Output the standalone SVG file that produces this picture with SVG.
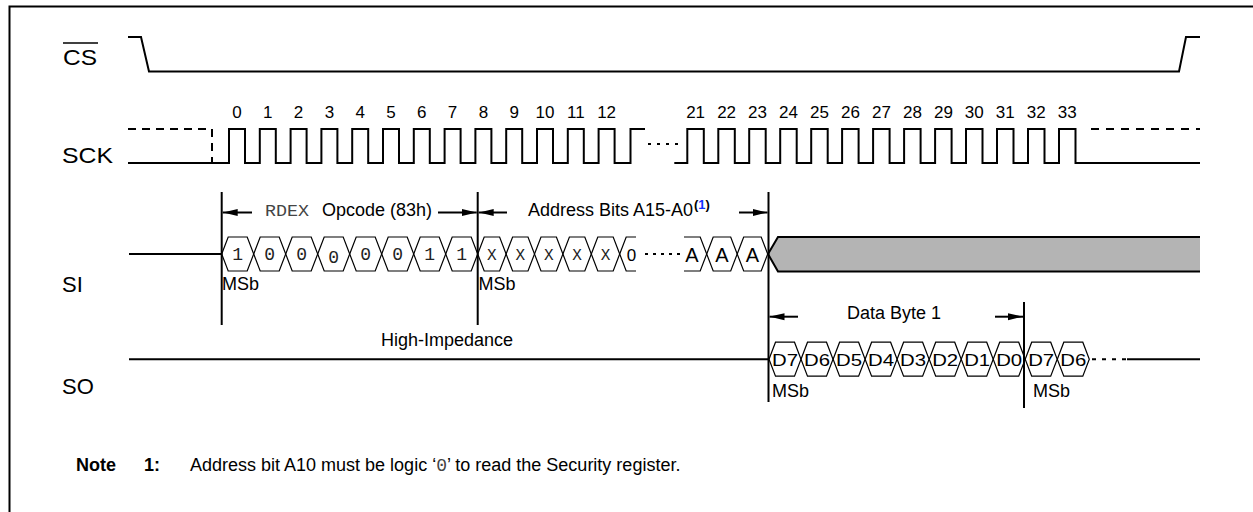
<svg xmlns="http://www.w3.org/2000/svg" xmlns:xlink="http://www.w3.org/1999/xlink" width="1253" height="512" viewBox="0 0 1253 512">
<style>
.w{fill:none;stroke:#000;stroke-width:2}
.h{fill:none;stroke:#000;stroke-width:1.2}
.v{stroke:#000;stroke-width:2}
.lbl{font-family:"Liberation Sans",Arial,sans-serif;font-size:22px;fill:#000}
.num{font-family:"Liberation Sans",Arial,sans-serif;font-size:17px;fill:#000;text-anchor:middle}
.t{font-family:"Liberation Sans",Arial,sans-serif;font-size:18px;fill:#000}
.bit{font-family:"Liberation Mono","Courier New",monospace;font-size:18px;fill:#222;text-anchor:middle}
.xb{font-family:"Liberation Mono","Courier New",monospace;font-size:16px;fill:#222;text-anchor:middle}
.d{font-family:"Liberation Sans",Arial,sans-serif;font-size:17px;fill:#000;text-anchor:middle}
.a{font-family:"Liberation Sans",Arial,sans-serif;font-size:20px;fill:#000;text-anchor:middle}
.arr{stroke:#000;stroke-width:2;marker-end:url(#ah)}
</style>
<defs>
<marker id="ah" markerUnits="userSpaceOnUse" markerWidth="15" markerHeight="8" refX="15" refY="4" orient="auto"><path d="M0,0.5 L15,4 L0,7.5 Z" fill="#000"/></marker>
<path id="hex32" class="h" d="M0,0 L6.5,-17 L25.5,-17 L32,0 L25.5,17 L6.5,17 Z"/>
<path id="hex28" class="h" d="M0,0 L6.5,-17 L21.9,-17 L28.4,0 L21.9,17 L6.5,17 Z"/>
<path id="hex30" class="h" d="M0,0 L6.5,-17 L24,-17 L30.5,0 L24,17 L6.5,17 Z"/>
</defs>
<rect width="1253" height="512" fill="#fff"/>
<g id="frame"><path d="M9.5,512 V6.5 H1253" class="w" stroke-width="2.2"/></g>

<g id="cs">
<text class="lbl" x="63" y="65" textLength="34" lengthAdjust="spacingAndGlyphs">CS</text>
<line x1="63" y1="43" x2="98" y2="43" stroke="#000" stroke-width="1.5"/>
<polyline class="w" points="128,37 141,37 149,71.5 1179,71.5 1186,37 1200,37"/>
</g>

<g id="sck">
<text class="lbl" x="62" y="163" textLength="51" lengthAdjust="spacingAndGlyphs">SCK</text>
<path class="w" d="M128,163 H212"/>
<path class="w" d="M128,129 H212 V163" stroke-dasharray="8,6"/>
<path class="w" d="M212,163 H229 V129 H245 V163 H259.8 V129 H275.8 V163 H290.6 V129 H306.6 V163 H321.4 V129 H337.4 V163 H352.2 V129 H368.2 V163 H383 V129 H399 V163 H413.8 V129 H429.8 V163 H444.6 V129 H460.6 V163 H475.4 V129 H491.4 V163 H506.2 V129 H522.2 V163 H537 V129 H553 V163 H567.8 V129 H583.8 V163 H598.6 V129 H614.6 V163 H630.5 V129 H645"/>
<path class="w" d="M648,144 H681" stroke-dasharray="3,6"/>
<path class="w" d="M674.3,163 H687.3 V129 H703.8 V163 H718.3 V129 H734.8 V163 H749.2 V129 H765.7 V163 H780.2 V129 H796.7 V163 H811.2 V129 H827.7 V163 H842.1 V129 H858.6 V163 H873.1 V129 H889.6 V163 H904.1 V129 H920.6 V163 H935.1 V129 H951.6 V163 H966 V129 H982.5 V163 H997 V129 H1013.5 V163 H1028 V129 H1044.5 V163 H1059 V129 H1075.5 V163 H1200"/>
<path class="w" d="M1091,129 H1200" stroke-dasharray="8,7"/>
<g class="num">
<text x="237" y="118">0</text><text x="267.8" y="118">1</text><text x="298.6" y="118">2</text><text x="329.4" y="118">3</text><text x="360.2" y="118">4</text><text x="391" y="118">5</text><text x="421.8" y="118">6</text><text x="452.6" y="118">7</text><text x="483.4" y="118">8</text><text x="514.2" y="118">9</text><text x="545" y="118">10</text><text x="575.8" y="118">11</text><text x="606.6" y="118">12</text>
<text x="695.6" y="118">21</text><text x="726.6" y="118">22</text><text x="757.5" y="118">23</text><text x="788.5" y="118">24</text><text x="819.5" y="118">25</text><text x="850.4" y="118">26</text><text x="881.4" y="118">27</text><text x="912.4" y="118">28</text><text x="943.4" y="118">29</text><text x="974.3" y="118">30</text><text x="1005.3" y="118">31</text><text x="1036.3" y="118">32</text><text x="1067.3" y="118">33</text>
</g>
</g>

<g id="si">
<text class="lbl" x="62" y="292">SI</text>
<path class="w" d="M129,254 H221.7"/>
<use xlink:href="#hex32" x="221.7" y="254"/><use xlink:href="#hex32" x="253.7" y="254"/><use xlink:href="#hex32" x="285.7" y="254"/><use xlink:href="#hex32" x="317.7" y="254"/><use xlink:href="#hex32" x="349.7" y="254"/><use xlink:href="#hex32" x="381.7" y="254"/><use xlink:href="#hex32" x="413.7" y="254"/><use xlink:href="#hex32" x="445.7" y="254"/>
<g class="bit">
<text x="237.7" y="260">1</text><text x="269.7" y="260">0</text><text x="301.7" y="260">0</text><text x="333.7" y="263">0</text><text x="365.7" y="260">0</text><text x="397.7" y="260">0</text><text x="429.7" y="260">1</text><text x="461.7" y="260">1</text>
</g>
<use xlink:href="#hex28" x="477.7" y="254"/><use xlink:href="#hex28" x="506.1" y="254"/><use xlink:href="#hex28" x="534.5" y="254"/><use xlink:href="#hex28" x="562.9" y="254"/><use xlink:href="#hex28" x="591.3" y="254"/>
<g class="xb">
<text x="491.9" y="259.5">X</text><text x="520.3" y="259.5">X</text><text x="548.7" y="259.5">X</text><text x="577.1" y="259.5">X</text><text x="605.5" y="259.5">X</text>
</g>
<path class="h" d="M636,237 H626.2 L619.7,254 L626.2,271 H636"/>
<text class="d" x="631.5" y="260.5">0</text>
<path class="w" d="M645,254 H681" stroke-dasharray="3,5"/>
<path class="h" d="M684,237 H700.2 L706.7,254 L700.2,271 H684"/>
<use xlink:href="#hex30" x="706.7" y="254"/><use xlink:href="#hex30" x="737.2" y="254"/>
<g class="a">
<text x="692" y="261.5">A</text><text x="722" y="261.5">A</text><text x="752.5" y="261.5">A</text>
</g>
<path d="M768,254 L778,237 H1200 V271.5 H778 Z" fill="#b4b4b4"/>
<path class="w" d="M1200,237 H778 L768,254 L778,271.5 H1200"/>
<text class="t" x="222" y="290">MSb</text>
<text class="t" x="478.5" y="290">MSb</text>
</g>

<g id="so">
<text class="lbl" x="62" y="394">SO</text>
<path class="w" d="M129,359.2 H769"/>
<use xlink:href="#hex32" x="769" y="359.2"/><use xlink:href="#hex32" x="801" y="359.2"/><use xlink:href="#hex32" x="833.1" y="359.2"/><use xlink:href="#hex32" x="865.1" y="359.2"/><use xlink:href="#hex32" x="897.1" y="359.2"/><use xlink:href="#hex32" x="929.2" y="359.2"/><use xlink:href="#hex32" x="961.2" y="359.2"/><use xlink:href="#hex32" x="993.2" y="359.2"/><use xlink:href="#hex32" x="1025.2" y="359.2"/><use xlink:href="#hex32" x="1057.3" y="359.2"/>
<g class="d">
<text x="785" y="365.5" textLength="26" lengthAdjust="spacingAndGlyphs">D7</text><text x="817" y="365.5" textLength="26" lengthAdjust="spacingAndGlyphs">D6</text><text x="849.1" y="365.5" textLength="26" lengthAdjust="spacingAndGlyphs">D5</text><text x="881.1" y="365.5" textLength="26" lengthAdjust="spacingAndGlyphs">D4</text><text x="913.1" y="365.5" textLength="26" lengthAdjust="spacingAndGlyphs">D3</text><text x="945.2" y="365.5" textLength="26" lengthAdjust="spacingAndGlyphs">D2</text><text x="977.2" y="365.5" textLength="26" lengthAdjust="spacingAndGlyphs">D1</text><text x="1009.2" y="365.5" textLength="26" lengthAdjust="spacingAndGlyphs">D0</text><text x="1041.2" y="365.5" textLength="26" lengthAdjust="spacingAndGlyphs">D7</text><text x="1073.3" y="365.5" textLength="26" lengthAdjust="spacingAndGlyphs">D6</text>
</g>
<path class="w" d="M1092,359.2 H1127" stroke-dasharray="4,6"/>
<path class="w" d="M1127,359.2 H1200"/>
<text class="t" x="381" y="346">High-Impedance</text>
<text class="t" x="772" y="397">MSb</text>
<text class="t" x="1033" y="397">MSb</text>
</g>

<g id="connectors">
<line class="v" x1="221.7" y1="192" x2="221.7" y2="325"/>
<line class="v" x1="477.7" y1="192" x2="477.7" y2="325"/>
<line class="v" x1="768.5" y1="192" x2="768.5" y2="402"/>
<line class="v" x1="1024" y1="302" x2="1024" y2="408"/>
<line class="arr" x1="252" y1="212.5" x2="222.7" y2="212.5"/>
<line class="arr" x1="438" y1="212.5" x2="476.7" y2="212.5"/>
<line class="arr" x1="507" y1="212.5" x2="478.7" y2="212.5"/>
<line class="arr" x1="739" y1="212.5" x2="767.5" y2="212.5"/>
<line class="arr" x1="798" y1="316.7" x2="769.5" y2="316.7"/>
<line class="arr" x1="995" y1="316.7" x2="1023" y2="316.7"/>
</g>

<g id="labels">
<text x="265" y="216" font-family="Liberation Mono,Courier New,monospace" font-size="17" fill="#444" textLength="44" lengthAdjust="spacingAndGlyphs">RDEX</text>
<text class="t" x="322" y="216">Opcode (83h)</text>
<text class="t" x="528" y="216">Address Bits A15-A0</text>
<text x="694" y="208.5" font-family="Liberation Sans,Arial,sans-serif" font-size="13" font-weight="bold">(<tspan fill="#1030ff">1</tspan>)</text>
<text class="t" x="847" y="319">Data Byte 1</text>
</g>

<g id="note">
<text class="t" x="76" y="471" font-size="17" font-weight="bold">Note</text>
<text class="t" x="144" y="471" font-size="17" font-weight="bold">1:</text>
<text class="t" x="190" y="471" font-size="17">Address bit A10 must be logic ‘<tspan font-family="Liberation Mono,Courier New,monospace" fill="#444">0</tspan>’ to read the Security register.</text>
</g>
</svg>
